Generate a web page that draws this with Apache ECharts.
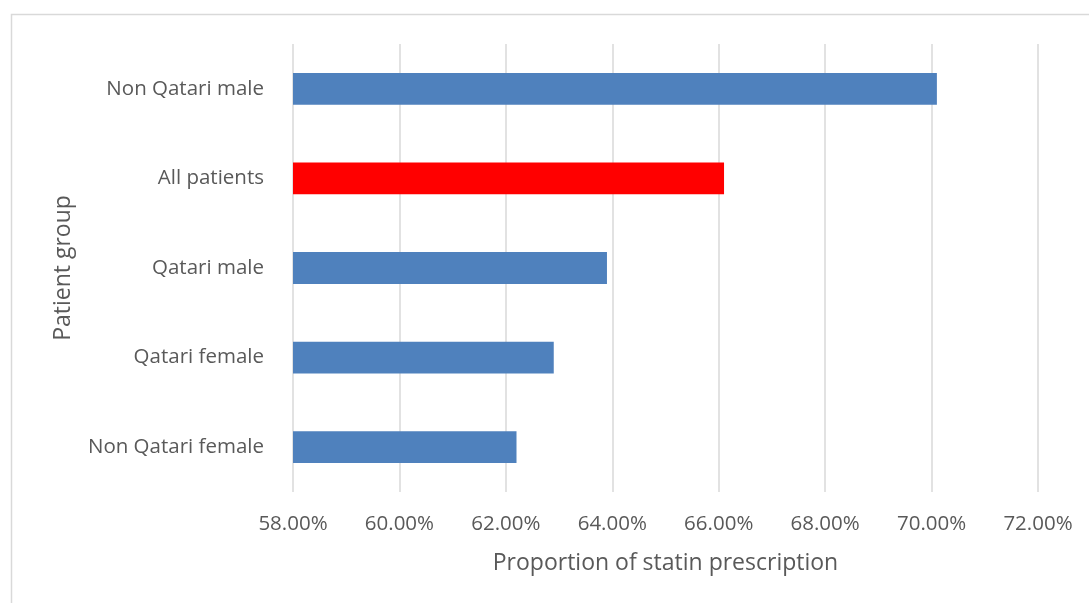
<!DOCTYPE html>
<html>
<head>
<meta charset="utf-8">
<script src="https://cdn.jsdelivr.net/npm/echarts@6/dist/echarts.min.js"></script>
<style>
html,body{margin:0;padding:0;background:#fff;}
#main{width:1089px;height:603px;}
</style>
</head>
<body>
<div id="main"></div>
<script>
const categories = ['Non Qatari male', 'All patients', 'Qatari male', 'Qatari female', 'Non Qatari female'];
const values = [70.1, 66.1, 63.9, 62.9, 62.2];
const barColors = ['#4F81BD', '#FF0000', '#4F81BD', '#4F81BD', '#4F81BD'];
const xTicks = [58, 60, 62, 64, 66, 68, 70, 72];

const chart = echarts.init(document.getElementById('main'));
const font = 'Open Sans';
chart.setOption({
  animation: false,
  graphic: [{
    type: 'rect',
    shape: {x: 11.5, y: 14.5, width: 1100, height: 620},
    style: {fill: 'none', stroke: '#D9D9D9', lineWidth: 1.5},
    silent: true
  }],
  grid: {left: 293, right: 51, top: 44, bottom: 111},
  xAxis: {
    type: 'value',
    min: xTicks[0],
    max: xTicks[xTicks.length - 1],
    interval: 2,
    axisLine: {show: false},
    axisTick: {show: false},
    splitLine: {lineStyle: {color: '#D9D9D9', width: 1.5}},
    axisLabel: {
      color: '#595959', fontFamily: font, fontSize: 20.5, margin: 22,
      formatter: v => v.toFixed(2) + '%'
    },
    name: 'Proportion of statin prescription',
    nameLocation: 'middle',
    nameGap: 60,
    nameTextStyle: {color: '#595959', fontFamily: font, fontSize: 23}
  },
  yAxis: {
    type: 'category',
    data: categories,
    inverse: true,
    axisLine: {show: false},
    axisTick: {show: false},
    axisLabel: {color: '#595959', fontFamily: font, fontSize: 20.5, margin: 29},
    name: 'Patient group',
    nameLocation: 'middle',
    nameGap: 218,
    nameTextStyle: {color: '#595959', fontFamily: font, fontSize: 23}
  },
  series: [{
    type: 'bar',
    data: values.map((v, i) => ({value: v, itemStyle: {color: barColors[i]}})),
    barWidth: '35.5%'
  }]
});
</script>
</body>
</html>
